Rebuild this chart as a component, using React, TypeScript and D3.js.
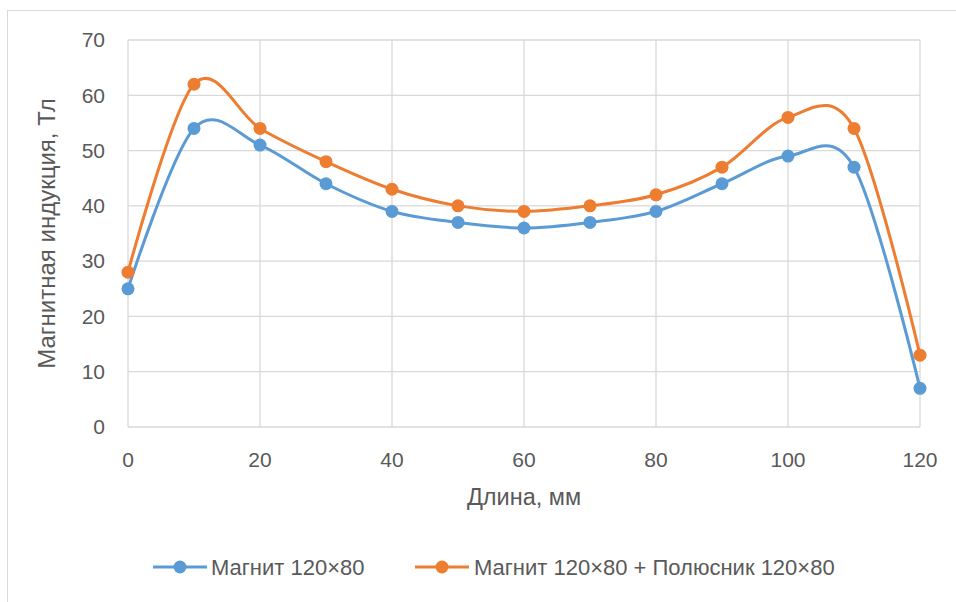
import React from "react";
import * as d3 from "d3";

const xValues = [0, 10, 20, 30, 40, 50, 60, 70, 80, 90, 100, 110, 120];
const magnet = [25, 54, 51, 44, 39, 37, 36, 37, 39, 44, 49, 47, 7];
const magnetPole = [28, 62, 54, 48, 43, 40, 39, 40, 42, 47, 56, 54, 13];
const xTicks = [0, 20, 40, 60, 80, 100, 120];
const yTicks = [0, 10, 20, 30, 40, 50, 60, 70];
const seriesNames = ["Магнит 120×80", "Магнит 120×80 + Полюсник 120×80"];
const colors = ["#5b9bd5", "#ed7d31"];

export default function App() {
  const W = 956, H = 602;
  const left = 128, right = 920, top = 40, bottom = 427;
  const x = d3.scaleLinear().domain([0, 120]).range([left, right]);
  const y = d3.scaleLinear().domain([0, 70]).range([bottom, top]);
  const line = d3
    .line<number>()
    .x((_, i) => x(xValues[i]))
    .y((d) => y(d))
    .curve(d3.curveCardinal.tension(0));
  const font = "'Liberation Sans', Arial, sans-serif";
  const textColor = "#595959";
  const series = [magnet, magnetPole];
  const legendItems = [
    { lx: 153, tx: 211 },
    { lx: 415, tx: 474 },
  ];
  return (
    <svg
      width={W}
      height={H}
      style={{ position: "absolute", left: 0, top: 0 }}
      fontFamily={font}
    >
      <rect x={0} y={0} width={W} height={H} fill="#fff" />
      <rect x={7.5} y={10.5} width={W + 10} height={H + 10} fill="#fff" stroke="#d9d9d9" />
      {yTicks.map((t) => (
        <line key={"gy" + t} x1={left} x2={right} y1={y(t)} y2={y(t)} stroke="#d9d9d9" strokeWidth={1.3} />
      ))}
      {xTicks.map((t) => (
        <line key={"gx" + t} x1={x(t)} x2={x(t)} y1={top} y2={bottom} stroke="#d9d9d9" strokeWidth={1.3} />
      ))}
      {yTicks.map((t) => (
        <text key={"ty" + t} x={105} y={y(t)} dy="0.35em" textAnchor="end" fontSize={21} fill={textColor}>
          {t}
        </text>
      ))}
      {xTicks.map((t) => (
        <text key={"tx" + t} x={x(t)} y={460} dy="0.35em" textAnchor="middle" fontSize={21} fill={textColor}>
          {t}
        </text>
      ))}
      <text x={(left + right) / 2} y={497} dy="0.35em" textAnchor="middle" fontSize={23.5} fill={textColor}>
        Длина, мм
      </text>
      <text
        transform={`translate(47, ${(top + bottom) / 2}) rotate(-90)`}
        dy="0.35em"
        textAnchor="middle"
        fontSize={24}
        fill={textColor}
      >
        Магнитная индукция, Тл
      </text>
      {series.map((s, si) => (
        <g key={"s" + si}>
          <path d={line(s) || ""} fill="none" stroke={colors[si]} strokeWidth={3} strokeLinecap="round" />
          {s.map((v, i) => (
            <circle key={i} cx={x(xValues[i])} cy={y(v)} r={6.5} fill={colors[si]} />
          ))}
        </g>
      ))}
      {legendItems.map((li, i) => (
        <g key={"l" + i}>
          <line x1={li.lx} x2={li.lx + 54} y1={567} y2={567} stroke={colors[i]} strokeWidth={3} />
          <circle cx={li.lx + 27} cy={567} r={6.5} fill={colors[i]} />
          <text x={li.tx} y={567} dy="0.35em" fontSize={22} fill={textColor}>
            {seriesNames[i]}
          </text>
        </g>
      ))}
    </svg>
  );
}
